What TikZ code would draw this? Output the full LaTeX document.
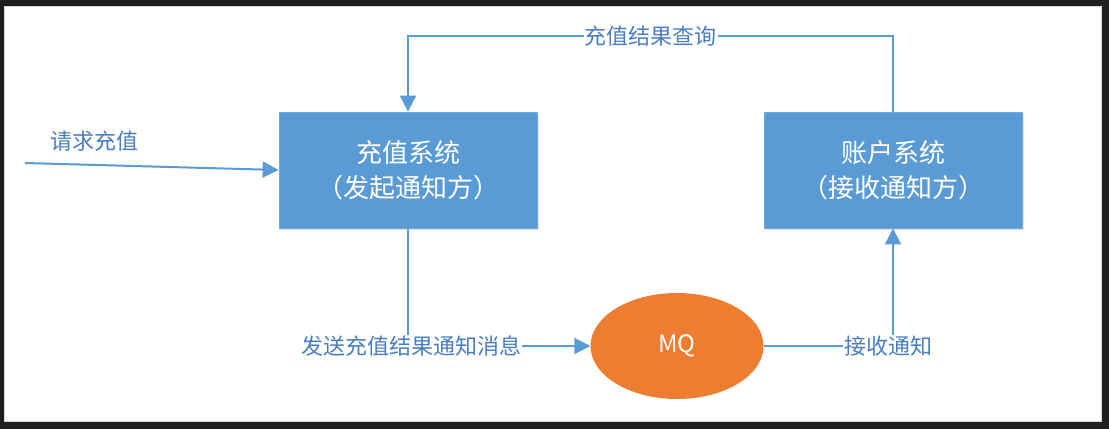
\documentclass[tikz,border=0pt]{standalone}
\usepackage{fontspec}
\newfontfamily\cjk{Noto Sans CJK SC}
\usetikzlibrary{arrows.meta,shadows,shapes.geometric}
\definecolor{frame}{HTML}{1E1E1E}
\definecolor{boxblue}{HTML}{5B9BD5}
\definecolor{lineblue}{HTML}{5B9BD5}
\definecolor{textblue}{HTML}{4A7EBF}
\definecolor{mqorange}{HTML}{ED7D31}
\begin{document}
\begin{tikzpicture}[x=1pt,y=-1pt,
  sysbox/.style={rectangle, fill=boxblue, draw=boxblue!85!white, line width=0.8pt,
    minimum width=258pt, minimum height=116pt, align=center, text=white,
    font=\cjk\fontsize{26}{35}\selectfont,
    drop shadow={shadow xshift=2pt, shadow yshift=-2pt, opacity=0.2}},
  mqnode/.style={ellipse, fill=mqorange, minimum width=173pt, minimum height=106pt,
    text=white, font=\cjk\fontsize{24}{28}\selectfont, inner sep=0pt},
  conn/.style={draw=lineblue, line width=2pt, -{Triangle[length=16pt,width=16pt]}},
  lbl/.style={fill=white, text=textblue, font=\cjk\fontsize{22}{24}\selectfont, inner sep=1pt}
]
\useasboundingbox (0,0) rectangle (1109,429);
\fill[frame] (0,0) rectangle (1109,429);
\fill[white, draw=black!15] (4,6) rectangle (1101,421);

\node[sysbox] (lbox) at (408,170) {充值系统\\（发起通知方）};
\node[sysbox] (rbox) at (893,170) {账户系统\\（接收通知方）};
\node[mqnode] (mq) at (677,346) {MQ};

\coordinate (in) at (25,163);
\draw[conn] (in) -- (lbox.west);
\node[lbl] (reqlbl) at (94,141) {请求充值};

\draw[conn] (lbox.south) |- node[lbl, pos=0.5, xshift=3pt] {发送充值结果通知消息} (mq.west);
\draw[conn] (mq.east) -| node[lbl, pos=0.5, xshift=-5pt] {接收通知} (rbox.south);
\draw[conn] (rbox.north) -- (rbox.north |- 0,36) -- node[lbl] {充值结果查询} (lbox.north |- 0,36) -- (lbox.north);
\end{tikzpicture}
\end{document}
